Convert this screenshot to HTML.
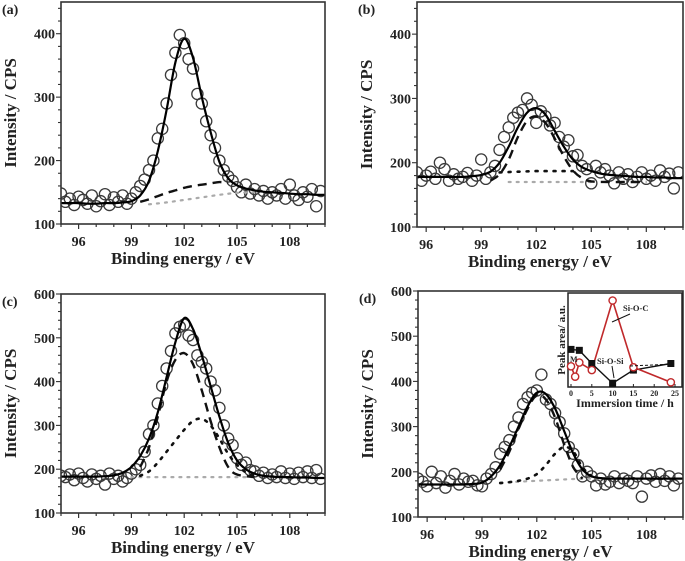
<!DOCTYPE html>
<html><head><meta charset="utf-8"><style>
html,body{margin:0;padding:0;background:#fff;}
svg{display:block;font-family:"Liberation Serif",serif;font-weight:bold;}
</style></head><body>
<svg id="fig" width="685" height="561" viewBox="0 0 685 561" xmlns="http://www.w3.org/2000/svg"></svg>
<script>
// ---------- data ----------
const energies = [95,95.25,95.5,95.75,96,96.25,96.5,96.75,97,97.25,97.5,97.75,98,98.25,98.5,98.75,99,99.25,99.5,99.75,100,100.25,100.5,100.75,101,101.25,101.5,101.75,102,102.25,102.5,102.75,103,103.25,103.5,103.75,104,104.25,104.5,104.75,105,105.25,105.5,105.75,106,106.25,106.5,106.75,107,107.25,107.5,107.75,108,108.25,108.5,108.75,109,109.25,109.5,109.75];
const pointsA = [148,135,140,130,143,138,132,145,128,136,147,130,142,135,145,132,140,150,160,170,185,200,235,250,290,335,370,398,385,360,345,305,290,262,240,220,200,185,175,168,158,150,162,148,155,145,152,140,150,145,155,140,162,145,138,150,143,155,128,152];
const pointsB = [180,176,185,172,180,186,175,200,190,172,182,175,178,184,172,180,205,175,185,195,220,240,255,270,278,282,300,290,262,280,272,258,262,240,225,235,210,212,195,190,168,195,185,190,180,168,185,175,182,170,178,185,175,180,172,188,178,183,160,185];
const pointsC = [185,182,188,175,190,180,172,188,178,185,165,190,178,185,172,180,190,200,210,240,280,300,350,390,430,470,510,525,530,505,495,460,445,430,400,380,340,300,270,255,225,210,215,198,195,185,192,180,188,182,195,180,190,178,192,182,195,180,198,178];
const pointsD = [200,170,185,178,168,200,175,190,165,180,195,172,185,178,180,170,168,185,195,210,240,255,270,300,320,350,365,375,380,415,360,350,330,310,285,255,240,215,190,200,190,170,185,172,178,190,175,185,180,175,190,145,185,192,178,195,180,190,170,185];

const fitE = [95,95.5,96,96.5,97,97.5,98,98.5,99,99.5,100,100.5,101,101.5,102,102.5,103,103.5,104,104.5,105,105.5,106,106.5,107,107.5,108,108.5,109,109.5,110];
const fitA = [133,133,133,132,132,133,133,134,136,145,168,215,280,355,392,362,300,245,198,172,161,156,153,151,150,149,148,147,147,146,146];
const fitB = [178,178,178,178,178,178,178,179,181,186,200,225,255,278,285,275,250,225,205,193,187,183,181,180,179,178,178,177,177,176,176];
const fitC = [183,183,183,183,183,184,186,192,205,230,270,330,410,490,545,520,460,390,320,260,220,200,190,185,183,182,182,181,181,180,180];
const fitD = [172,172,172,172,172,172,172,173,176,190,215,255,300,345,375,372,340,290,240,205,190,186,185,185,185,185,185,185,185,185,185];

const dashAE = [99.5,100,100.5,101,101.5,102,102.5,103,103.5,104,104.5];
const dashAY = [135,139,144,149,153,157,160,162,164,166,165];
const grayAE = [100,101,102,103,104,105,106];
const grayAY = [131,134,138,142,146,149,150];

const dashBE = [99.5,100,100.5,101,101.5,102,102.5,103,103.5,104,104.5,105,106,107,108];
const dashBY = [172,182,205,240,265,272,262,238,210,188,176,171,170,170,170];
const dotBE = [100,101,102,103,104];
const dotBY = [185,186,187,187,187];
const grayBE = [100.5,101.5,102.5,103.5,104.5,105];
const grayBY = [170,170,170,170,170,170];

const dashCE = [99.5,100,100.5,101,101.5,102,102.5,103,103.5,104,104.5,105,106];
const dashCY = [205,250,320,400,450,465,440,380,310,250,205,188,182];
const dotCE = [99.5,100,100.5,101,101.5,102,102.5,103,103.5,104,104.5,105,105.5,106];
const dotCY = [185,195,215,240,265,290,310,315,300,270,235,210,193,185];
const grayCE = [99,100,101,102,103,104,105,106];
const grayCY = [182,182,182,182,182,182,182,182];

const dashDE = [100,100.5,101,101.5,102,102.5,103,103.5,104,104.5];
const dashDY = [205,245,295,340,370,360,320,260,210,185];
const dotDE = [100,100.5,101,101.5,102,102.5,103,103.5,104,104.5,105];
const dotDY = [175,177,180,185,195,215,240,255,245,210,190];
const grayDE = [100,101,102,103,104,105,106];
const grayDY = [176,178,180,182,184,185,186];

const xTicks = [96,99,102,105,108];
const yTicksLow = [100,200,300,400];
const yTicksHigh = [100,200,300,400,500,600];

// inset
const insetRedT = [0,1,2,5,10,15,24];
const insetRedV = [22,11,26,18,92,21,5];
const insetBlackT = [0,2,5,10,15,24];
const insetBlackV = [40,39,25,4,18,25];
const insetTicks = [0,5,10,15,20,25];

// ---------- drawing ----------
const NS = "http://www.w3.org/2000/svg";
const svg = document.getElementById('fig');
function mk(tag, attrs, parent){
  const e = document.createElementNS(NS, tag);
  for (const k in attrs) e.setAttribute(k, attrs[k]);
  (parent||svg).appendChild(e);
  return e;
}
function smoothPath(pts){
  if (pts.length < 2) return '';
  let d = 'M' + pts[0][0].toFixed(1) + ',' + pts[0][1].toFixed(1);
  for (let i = 0; i < pts.length - 1; i++){
    const p0 = pts[i-1] || pts[i], p1 = pts[i], p2 = pts[i+1], p3 = pts[i+2] || p2;
    const c1x = p1[0] + (p2[0]-p0[0])/6, c1y = p1[1] + (p2[1]-p0[1])/6;
    const c2x = p2[0] - (p3[0]-p1[0])/6, c2y = p2[1] - (p3[1]-p1[1])/6;
    d += 'C' + c1x.toFixed(1)+','+c1y.toFixed(1)+' '+c2x.toFixed(1)+','+c2y.toFixed(1)+' '+p2[0].toFixed(1)+','+p2[1].toFixed(1);
  }
  return d;
}

function panel(cfg){
  const g = mk('g', {});
  
  
  const sx = v => cfg.L + (v - cfg.x0) / (cfg.x1 - cfg.x0) * (cfg.R - cfg.L);
  const sy = v => cfg.B - (v - cfg.y0) / (cfg.y1 - cfg.y0) * (cfg.B - cfg.T);

  const clipId = 'clip-' + cfg.id;
  const cp = mk('clipPath', {id: clipId}, g);
  mk('rect', {x: cfg.L, y: cfg.T, width: cfg.R - cfg.L, height: cfg.B - cfg.T}, cp);
  const plot = mk('g', {'clip-path': 'url(#' + clipId + ')'}, g);
  
  

  const sg = mk('g', {}, plot);
  
  
  for (let i = 0; i < energies.length; i++){
    if (energies[i] < cfg.x0 - 0.2) continue;
    const c = mk('circle', {cx: sx(energies[i]), cy: sy(cfg.pts[i]), r: 5.6, fill: 'none', stroke: '#3a3a3a', 'stroke-width': 1.3}, sg);
    
    
  }
  cfg.comps.forEach(cm => {
    const pts = cm.e.map((e, i) => [sx(e), sy(cm.y[i])]);
    const p = mk('path', {d: smoothPath(pts), fill: 'none', stroke: cm.color, 'stroke-width': cm.w, 'stroke-dasharray': cm.dash, 'stroke-linecap': cm.cap || 'butt'}, plot);
    
    
  });
  const fp = mk('path', {d: smoothPath(fitE.map((e, i) => [sx(e), sy(cfg.fit[i])])), fill: 'none', stroke: '#000', 'stroke-width': 2.2}, plot);
  
  

  const fr = mk('rect', {x: cfg.L, y: cfg.T, width: cfg.R - cfg.L, height: cfg.B - cfg.T, fill: 'none', stroke: '#333', 'stroke-width': 1.6}, g);
  
  

  const xa = mk('g', {}, g);
  
  
  for (let v = Math.ceil(cfg.x0); v <= cfg.x1; v++){
    const major = xTicks.indexOf(v) >= 0;
    mk('line', {x1: sx(v), x2: sx(v), y1: cfg.B, y2: cfg.B + (major ? 5 : 3), stroke: '#333', 'stroke-width': 1.2}, xa);
  }
  xTicks.forEach(v => {
    const t = mk('text', {x: sx(v), y: cfg.B + 22, 'text-anchor': 'middle', 'font-size': 14, fill: '#222'}, xa);
    t.textContent = v;
    
    
  });
  const xt = mk('text', {x: (cfg.L + cfg.R) / 2 - 10, y: cfg.B + 40, 'text-anchor': 'middle', 'font-size': 17, fill: '#222'}, g);
  xt.textContent = 'Binding energy / eV';
  
  

  const ya = mk('g', {}, g);
  
  
  for (let v = cfg.y0; v <= cfg.y1; v += 20){
    const major = v % 100 === 0;
    mk('line', {x1: cfg.L - (major ? 5 : 3), x2: cfg.L, y1: sy(v), y2: sy(v), stroke: '#333', 'stroke-width': 1.1}, ya);
  }
  cfg.yTicks.forEach(v => {
    const t = mk('text', {x: cfg.L - 6, y: sy(v) + 5, 'text-anchor': 'end', 'font-size': 14, fill: '#222'}, ya);
    t.textContent = v;
    
    
  });
  const ycx = cfg.L - 50, ycy = (cfg.T + cfg.B) / 2;
  const yt = mk('text', {x: ycx, y: ycy, 'text-anchor': 'middle', 'font-size': 17, fill: '#222', transform: 'rotate(-90 ' + ycx + ' ' + ycy + ')', dy: 5}, g);
  yt.textContent = 'Intensity / CPS';
  
  

  const pl = mk('text', {x: cfg.L - 59, y: cfg.T + 12, 'font-size': 14, fill: '#222'}, g);
  pl.textContent = '(' + cfg.id + ')';
  
  
  return {sx, sy};
}

const DASH = {color: '#111', w: 2.4, dash: '9 6'};
const DOT = {color: '#111', w: 2.6, dash: '2 7', cap: 'round'};
const GRAY = {color: '#aaa', w: 2.2, dash: '2 6', cap: 'round'};

panel({id: 'a', L: 61, R: 325, T: 2, B: 224, x0: 95, x1: 110, y0: 100, y1: 450, yTicks: yTicksLow, pts: pointsA, fit: fitA,
  comps: [Object.assign({name: 'gray-baseline-a', e: grayAE, y: grayAY}, GRAY), Object.assign({name: 'dashed-component-a', e: dashAE, y: dashAY}, DASH)]});
panel({id: 'b', L: 417, R: 683, T: 2, B: 227, x0: 95.5, x1: 110, y0: 100, y1: 450, yTicks: yTicksLow, pts: pointsB, fit: fitB,
  comps: [Object.assign({name: 'gray-baseline-b', e: grayBE, y: grayBY}, GRAY), Object.assign({name: 'dotted-component-b', e: dotBE, y: dotBY}, DOT), Object.assign({name: 'dashed-component-b', e: dashBE, y: dashBY}, DASH)]});
panel({id: 'c', L: 61, R: 325, T: 294, B: 513, x0: 95, x1: 110, y0: 100, y1: 600, yTicks: yTicksHigh, pts: pointsC, fit: fitC,
  comps: [Object.assign({name: 'gray-baseline-c', e: grayCE, y: grayCY}, GRAY), Object.assign({name: 'dotted-component-c', e: dotCE, y: dotCY}, DOT), Object.assign({name: 'dashed-component-c', e: dashCE, y: dashCY}, DASH)]});
panel({id: 'd', L: 418, R: 683, T: 291, B: 517, x0: 95.5, x1: 110, y0: 100, y1: 600, yTicks: yTicksHigh, pts: pointsD, fit: fitD,
  comps: [Object.assign({name: 'gray-baseline-d', e: grayDE, y: grayDY}, GRAY), Object.assign({name: 'dotted-component-d', e: dotDE, y: dotDY}, DOT), Object.assign({name: 'dashed-component-d', e: dashDE, y: dashDY}, DASH)]});

// ---------- inset ----------
(function(){
  const L = 568, R = 682, T = 293, B = 387;
  const ig = mk('g', {});
  
  
  const ix = t => 571 + t / 25 * 104;
  const iy = v => B - v / 100 * (B - T);
  const bg = mk('rect', {x: L, y: T, width: R - L, height: B - T, fill: '#fff', stroke: '#222', 'stroke-width': 1.5}, ig);
  
  
  insetTicks.forEach(t => {
    mk('line', {x1: ix(t), x2: ix(t), y1: B, y2: B - 3, stroke: '#222', 'stroke-width': 1}, ig);
    const tx = mk('text', {x: ix(t), y: B + 9, 'text-anchor': 'middle', 'font-size': 8, fill: '#222'}, ig);
    tx.textContent = t;
    
    
  });
  const xt = mk('text', {x: 625, y: B + 20, 'text-anchor': 'middle', 'font-size': 12, fill: '#222'}, ig);
  xt.textContent = 'Immersion time / h';
  
  
  const yt = mk('text', {x: 561, y: 340, 'text-anchor': 'middle', 'font-size': 11, fill: '#222', transform: 'rotate(-90 561 340)', dy: 4}, ig);
  yt.textContent = 'Peak area/ a.u.';
  
  

  const bl = mk('polyline', {points: insetBlackT.map((t, i) => ix(t) + ',' + iy(insetBlackV[i])).join(' '), fill: 'none', stroke: '#111', 'stroke-width': 1.4}, ig);
  
  
  const rl = mk('polyline', {points: insetRedT.map((t, i) => ix(t) + ',' + iy(insetRedV[i])).join(' '), fill: 'none', stroke: '#c0292b', 'stroke-width': 1.6}, ig);
  
  
  insetBlackT.forEach((t, i) => {
    const s = mk('rect', {x: ix(t) - 3.5, y: iy(insetBlackV[i]) - 3.5, width: 7, height: 7, fill: '#111'}, ig);
    
    
  });
  insetRedT.forEach((t, i) => {
    const c = mk('circle', {cx: ix(t), cy: iy(insetRedV[i]), r: 3.6, fill: '#fff', stroke: '#c0292b', 'stroke-width': 1.4}, ig);
    
    
  });
  const m = mk('text', {x: 570, y: 362, 'font-size': 8, fill: '#222'}, ig);
  m.textContent = 'M';
  
  
  const l1 = mk('text', {x: 623, y: 311, 'font-size': 8.5, fill: '#222'}, ig);
  l1.textContent = 'Si-O-C';
  
  
  mk('line', {x1: 630, y1: 314, x2: 612, y2: 322, stroke: '#111', 'stroke-width': 1}, ig);
  const l2 = mk('text', {x: 597, y: 364, 'font-size': 8.5, fill: '#222'}, ig);
  l2.textContent = 'Si-O-Si';
  
  
  mk('line', {x1: 612, y1: 366, x2: 614, y2: 378, stroke: '#111', 'stroke-width': 1}, ig);
  mk('line', {x1: 630, y1: 366, x2: 675, y2: 364, stroke: '#111', 'stroke-width': 1, 'stroke-dasharray': '3 2'}, ig);
})();
</script>
</body></html>
